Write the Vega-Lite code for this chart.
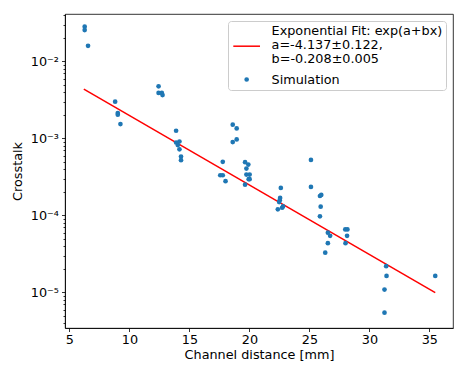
{
  "$schema": "https://vega.github.io/schema/vega-lite/v6.json",
  "width": 388,
  "height": 314,
  "autosize": "none",
  "padding": {"left": 65, "top": 14, "right": 14, "bottom": 46},
  "background": "white",
  "config": {
    "font": "DejaVu Sans",
    "view": {"stroke": "#000000", "strokeWidth": 0.8},
    "axis": {
      "grid": false,
      "domainColor": "#000000",
      "domainWidth": 0.8,
      "tickColor": "#000000",
      "tickWidth": 0.8,
      "labelColor": "#000000",
      "titleColor": "#000000",
      "labelFont": "DejaVu Sans",
      "titleFont": "DejaVu Sans",
      "labelFontSize": 12.8,
      "titleFontSize": 12.8,
      "titleFontWeight": "normal"
    }
  },
  "datasets": {
    "pts": [
      {"distance": 6.27, "crosstalk": 0.0283},
      {"distance": 6.27, "crosstalk": 0.0256},
      {"distance": 6.55, "crosstalk": 0.0160},
      {"distance": 8.81, "crosstalk": 0.00301},
      {"distance": 9.03, "crosstalk": 0.00214},
      {"distance": 9.03, "crosstalk": 0.00204},
      {"distance": 9.25, "crosstalk": 0.00154},
      {"distance": 12.43, "crosstalk": 0.00476},
      {"distance": 12.43, "crosstalk": 0.00391},
      {"distance": 12.70, "crosstalk": 0.00391},
      {"distance": 12.76, "crosstalk": 0.00366},
      {"distance": 13.89, "crosstalk": 0.00126},
      {"distance": 13.89, "crosstalk": 0.000887},
      {"distance": 14.17, "crosstalk": 0.000914},
      {"distance": 14.03, "crosstalk": 0.000820},
      {"distance": 14.17, "crosstalk": 0.000723},
      {"distance": 14.30, "crosstalk": 0.000582},
      {"distance": 14.30, "crosstalk": 0.000523},
      {"distance": 18.61, "crosstalk": 0.00151},
      {"distance": 18.94, "crosstalk": 0.00135},
      {"distance": 18.61, "crosstalk": 0.000897},
      {"distance": 18.94, "crosstalk": 0.000971},
      {"distance": 17.78, "crosstalk": 0.000497},
      {"distance": 17.57, "crosstalk": 0.000333},
      {"distance": 17.78, "crosstalk": 0.000333},
      {"distance": 18.01, "crosstalk": 0.000279},
      {"distance": 19.64, "crosstalk": 0.000492},
      {"distance": 19.91, "crosstalk": 0.000458},
      {"distance": 19.75, "crosstalk": 0.000406},
      {"distance": 19.75, "crosstalk": 0.000340},
      {"distance": 20.02, "crosstalk": 0.000340},
      {"distance": 19.94, "crosstalk": 0.000296},
      {"distance": 20.02, "crosstalk": 0.000296},
      {"distance": 19.64, "crosstalk": 0.000251},
      {"distance": 22.62, "crosstalk": 0.000228},
      {"distance": 22.56, "crosstalk": 0.000169},
      {"distance": 22.53, "crosstalk": 0.000158},
      {"distance": 22.48, "crosstalk": 0.000149},
      {"distance": 22.37, "crosstalk": 0.000120},
      {"distance": 22.73, "crosstalk": 0.000126},
      {"distance": 22.80, "crosstalk": 0.000131},
      {"distance": 25.13, "crosstalk": 0.000527},
      {"distance": 25.13, "crosstalk": 0.000235},
      {"distance": 25.88, "crosstalk": 0.000179},
      {"distance": 25.99, "crosstalk": 0.000185},
      {"distance": 25.94, "crosstalk": 0.000130},
      {"distance": 25.88, "crosstalk": 0.0000973},
      {"distance": 26.54, "crosstalk": 0.0000598},
      {"distance": 26.73, "crosstalk": 0.0000544},
      {"distance": 26.54, "crosstalk": 0.0000436},
      {"distance": 26.32, "crosstalk": 0.0000328},
      {"distance": 27.99, "crosstalk": 0.0000659},
      {"distance": 28.17, "crosstalk": 0.0000659},
      {"distance": 28.14, "crosstalk": 0.0000544},
      {"distance": 28.01, "crosstalk": 0.0000436},
      {"distance": 31.40, "crosstalk": 0.0000219},
      {"distance": 31.43, "crosstalk": 0.0000164},
      {"distance": 31.26, "crosstalk": 0.0000109},
      {"distance": 31.26, "crosstalk": 0.00000545},
      {"distance": 35.49, "crosstalk": 0.0000164}
    ],
    "fit": [
      {"distance": 6.2, "crosstalk": 0.00438},
      {"distance": 35.49, "crosstalk": 0.00000995}
    ]
  },
  "encoding": {
    "x": {
      "field": "distance",
      "type": "quantitative",
      "scale": {"domain": [4.63, 36.97], "nice": false, "zero": false},
      "axis": {
        "title": "Channel distance [mm]",
        "values": [5, 10, 15, 20, 25, 30, 35],
        "tickSize": 3.5,
        "labelPadding": 2,
        "titlePadding": 2
      }
    },
    "y": {
      "field": "crosstalk",
      "type": "quantitative",
      "scale": {"type": "log", "domain": [0.00000345, 0.0414], "nice": false},
      "axis": {
        "title": "Crosstalk",
        "titlePadding": 6,
        "labelOverlap": false,
        "values": [0.000004, 0.000005, 0.000006, 0.000007, 0.000008, 0.000009, 0.00001, 0.00002, 0.00003, 0.00004, 0.00005, 0.00006, 0.00007, 0.00008, 0.00009, 0.0001, 0.0002, 0.0003, 0.0004, 0.0005, 0.0006, 0.0007, 0.0008, 0.0009, 0.001, 0.002, 0.003, 0.004, 0.005, 0.006, 0.007, 0.008, 0.009, 0.01, 0.02, 0.03, 0.04],
        "labelExpr": "abs(log(datum.value)/LN10 - round(log(datum.value)/LN10)) > 0.01 ? '' : (round(log(datum.value)/LN10) == -2 ? '10⁻²' : round(log(datum.value)/LN10) == -3 ? '10⁻³' : round(log(datum.value)/LN10) == -4 ? '10⁻⁴' : '10⁻⁵')",
        "tickSize": {"condition": {"test": "abs(log(datum.value)/LN10 - round(log(datum.value)/LN10)) < 0.01", "value": 3.5}, "value": 2},
        "labelPadding": 3
      }
    }
  },
  "layer": [
    {
      "data": {"name": "fit"},
      "transform": [{"calculate": "'Exponential Fit'", "as": "series"}],
      "mark": {"type": "line", "strokeWidth": 1.5},
      "encoding": {
        "color": {
          "field": "series",
          "type": "nominal",
          "scale": {"domain": ["Exponential Fit", "Simulation"], "range": ["#ff0000", "#1f77b4"]},
          "legend": {
            "title": null,
            "orient": "top-right",
            "offset": 7,
            "padding": 3,
            "fillColor": "rgba(255,255,255,0.8)",
            "strokeColor": "#cccccc",
            "cornerRadius": 3,
            "labelFont": "DejaVu Sans",
            "labelFontSize": 12.8,
            "labelColor": "#000000",
            "labelLimit": 300,
            "labelOffset": 18.4,
            "symbolOffset": 9.15,
            "rowPadding": 7,
            "symbolSize": 114,
            "labelExpr": "datum.value == 'Simulation' ? 'Simulation' : ['Exponential Fit: exp(a+bx)', 'a=-4.137±0.122,', 'b=-0.208±0.005']",
            "encode": {
              "symbols": {
                "update": {
                  "shape": {"signal": "datum.value == 'Simulation' ? 'circle' : 'M-2.5,0H2.5'"},
                  "size": {"signal": "datum.value == 'Simulation' ? 10 : 114"},
                  "fill": {"signal": "datum.value == 'Simulation' ? '#1f77b4' : 'transparent'"},
                  "stroke": {"signal": "datum.value == 'Simulation' ? 'transparent' : '#ff0000'"},
                  "strokeWidth": {"value": 1.5},
                  "opacity": {"value": 1},
                  "y": {"signal": "datum.size * 0.5 + (datum.value == 'Simulation' ? 0 : 15.7)"}
                }
              },
              "labels": {
                "update": {
                  "lineHeight": {"value": 14.2}
                }
              }
            }
          }
        }
      }
    },
    {
      "data": {"name": "pts"},
      "transform": [{"calculate": "'Simulation'", "as": "series"}],
      "mark": {"type": "point", "filled": true, "opacity": 1, "size": 22},
      "encoding": {
        "color": {"field": "series", "type": "nominal"}
      }
    }
  ]
}
